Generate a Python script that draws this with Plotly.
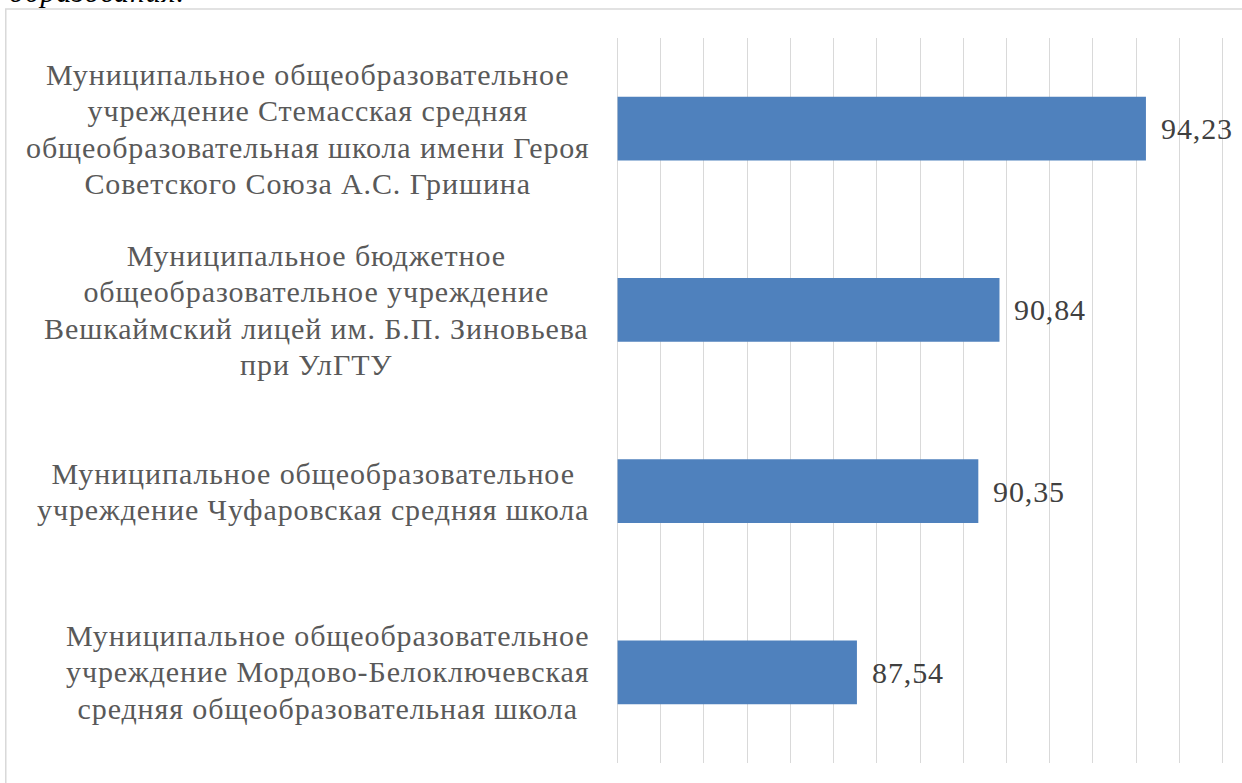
import plotly.graph_objects as go

categories = [
    "Муниципальное общеобразовательное<br>учреждение Стемасская средняя<br>общеобразовательная школа имени Героя<br>Советского Союза А.С. Гришина",
    "Муниципальное бюджетное<br>общеобразовательное учреждение<br>Вешкаймский лицей им. Б.П. Зиновьева<br>при УлГТУ",
    "Муниципальное общеобразовательное<br>учреждение Чуфаровская средняя школа",
    "Муниципальное общеобразовательное<br>учреждение Мордово-Белоключевская<br>средняя общеобразовательная школа",
]
values = [94.23, 90.84, 90.35, 87.54]
x_min, x_max = 82, 96
top_text = "образования."

W, H = 1242, 783
X0_PX, X1_PX = 618, 1222          # pixel positions of x_min / x_max
EPS = 0.06                        # small padding so edge gridlines get drawn
SCALE = (X1_PX - X0_PX) / (x_max - x_min)
ML = X0_PX - EPS * SCALE
MR = W - (X1_PX + EPS * SCALE)
MT, MB = 38, 20
PW, PH = W - ML - MR, H - MT - MB

def px_x(p):
    return (p - ML) / PW

def px_y(p):
    return (H - MB - p) / PH

serif = "Liberation Serif, Times New Roman, serif"
SPAN_STYLE = "font-size:30px;letter-spacing:0.9px"

def stretched(text):
    return "<br>".join(f'<span style="{SPAN_STYLE}">{line}</span>' for line in text.split("<br>"))

fig = go.Figure()
# bars start at the axis minimum (as in the original chart)
fig.add_trace(go.Bar(
    x=[v - x_min for v in values], base=x_min, y=categories, orientation="h",
    marker=dict(color="#4f81bd", line=dict(width=0)),
    hoverinfo="skip",
))

annotations = []
for c, v in zip(categories, values):
    annotations.append(dict(
        x=x_min, y=c, xref="x", yref="y", text=stretched(c), showarrow=False,
        xanchor="right", yanchor="middle", align="center", xshift=-27,
        font=dict(family=serif, size=28, color="#595959"),
    ))
    annotations.append(dict(
        x=v, y=c, xref="x", yref="y", text=stretched(f"{v:.2f}".replace(".", ",")),
        showarrow=False, xanchor="left", yanchor="middle", xshift=13,
        font=dict(family=serif, size=28, color="#404040"),
    ))
annotations.append(dict(
    x=px_x(8), y=px_y(10), xref="paper", yref="paper",
    text=f"<i>{stretched(top_text)}</i>",
    showarrow=False, xanchor="left", yanchor="bottom",
    font=dict(family=serif, size=28, color="#000000"),
))

fig.update_layout(
    width=W, height=H, autosize=False,
    margin=dict(l=ML, r=MR, t=MT, b=MB, pad=0),
    plot_bgcolor="white", paper_bgcolor="white",
    showlegend=False,
    bargap=0.647,
    xaxis=dict(range=[x_min - EPS, x_max + EPS], dtick=1, tick0=x_min, showgrid=True,
               gridcolor="#d9d9d9", gridwidth=1, showticklabels=False,
               zeroline=False, showline=False, ticks=""),
    yaxis=dict(categoryorder="array", categoryarray=categories, autorange="reversed",
               showticklabels=False, showgrid=False, zeroline=False, showline=False, ticks=""),
    annotations=annotations,
    shapes=[dict(type="rect", xref="paper", yref="paper",
                 x0=px_x(7), x1=px_x(W + 5), y0=px_y(H + 5), y1=px_y(9),
                 line=dict(color="#d9d9d9", width=1.5), layer="below")],
)

fig.write_html("out.html", config={"displayModeBar": False, "staticPlot": True},
               post_script="document.body.style.margin='0';document.body.style.overflow='hidden';")
